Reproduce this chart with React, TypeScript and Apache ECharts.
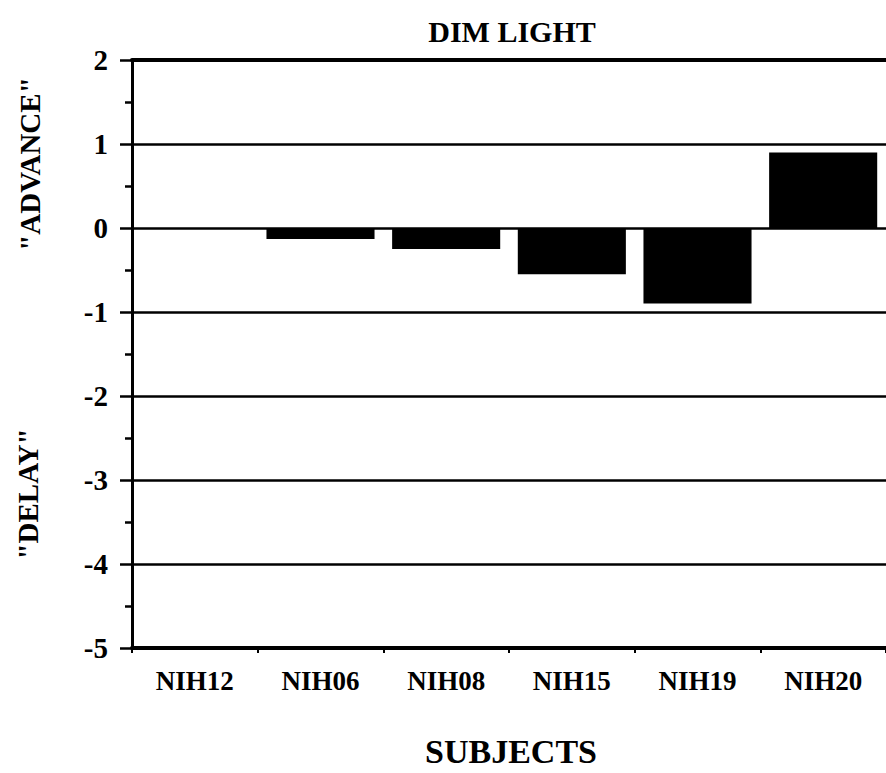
import React, { useEffect, useRef } from "react";
import * as echarts from "echarts";

// Phase shift per subject under dim light (positive = advance, negative = delay)
const subjects = ["NIH12", "NIH06", "NIH08", "NIH15", "NIH19", "NIH20"];
const phaseShift = [0, -0.13, -0.25, -0.55, -0.9, 0.9];

const yMin = -5;
const yMax = 2;
const yInterval = 1;

const chartTitle = "DIM LIGHT";
const xAxisTitle = "SUBJECTS";
const advanceLabel = '"ADVANCE"';
const delayLabel = '"DELAY"';

const FONT = '"Liberation Serif", "Times New Roman", Times, serif';

export default function App() {
  const ref = useRef<HTMLDivElement>(null);

  useEffect(() => {
    if (!ref.current) return;
    const chart = echarts.init(ref.current, undefined, { renderer: "svg" });
    chart.setOption({
      animation: false,
      backgroundColor: "#ffffff",
      title: {
        text: chartTitle,
        left: 507,
        top: 11,
        textAlign: "center",
        textStyle: { fontFamily: FONT, fontWeight: "bold", fontSize: 30, color: "#000" },
      },
      grid: { left: 132, right: 0, top: 60, bottom: 125, containLabel: false },
      xAxis: [
        {
          type: "category",
          data: subjects,
          position: "bottom",
          axisLine: { onZero: false, lineStyle: { color: "#000", width: 4 } },
          axisTick: { show: true, length: 5, inside: false, lineStyle: { color: "#000", width: 2 } },
          axisLabel: {
            margin: 19,
            fontFamily: FONT,
            fontWeight: "bold",
            fontSize: 27,
            color: "#000",
          },
          splitLine: { show: false },
        },
        {
          type: "category",
          data: subjects,
          position: "top",
          axisLine: { onZero: false, lineStyle: { color: "#000", width: 4 } },
          axisTick: { show: false },
          axisLabel: { show: false },
        },
      ],
      yAxis: {
        type: "value",
        min: yMin,
        max: yMax,
        interval: yInterval,
        axisLine: { show: true, lineStyle: { color: "#000", width: 3 } },
        axisTick: { show: true, length: 12, lineStyle: { color: "#000", width: 2.5 } },
        minorTick: { show: true, splitNumber: 2, length: 7, lineStyle: { color: "#000", width: 2.5 } },
        axisLabel: {
          margin: 24,
          fontFamily: FONT,
          fontWeight: "bold",
          fontSize: 29,
          color: "#000",
        },
        splitLine: { show: true, lineStyle: { color: "#000", width: 2.5 } },
      },
      graphic: [
        {
          type: "text",
          x: 30,
          y: 164,
          rotation: Math.PI / 2,
          style: {
            text: advanceLabel,
            fontFamily: FONT,
            fontWeight: "bold",
            fontSize: 29,
            fill: "#000",
            align: "center",
            verticalAlign: "middle",
          },
        },
        {
          type: "text",
          x: 28,
          y: 494,
          rotation: Math.PI / 2,
          style: {
            text: delayLabel,
            fontFamily: FONT,
            fontWeight: "bold",
            fontSize: 29,
            fill: "#000",
            align: "center",
            verticalAlign: "middle",
          },
        },
        {
          type: "text",
          x: 511,
          y: 751,
          style: {
            text: xAxisTitle,
            fontFamily: FONT,
            fontWeight: "bold",
            fontSize: 34,
            fill: "#000",
            align: "center",
            verticalAlign: "middle",
          },
        },
      ],
      series: [
        {
          type: "bar",
          data: phaseShift,
          barCategoryGap: "14%",
          itemStyle: { color: "#000" },
        },
      ],
    });
    return () => chart.dispose();
  }, []);

  return (
    <div
      ref={ref}
      style={{ position: "fixed", left: 0, top: 0, width: 886, height: 773, background: "#fff" }}
    />
  );
}
